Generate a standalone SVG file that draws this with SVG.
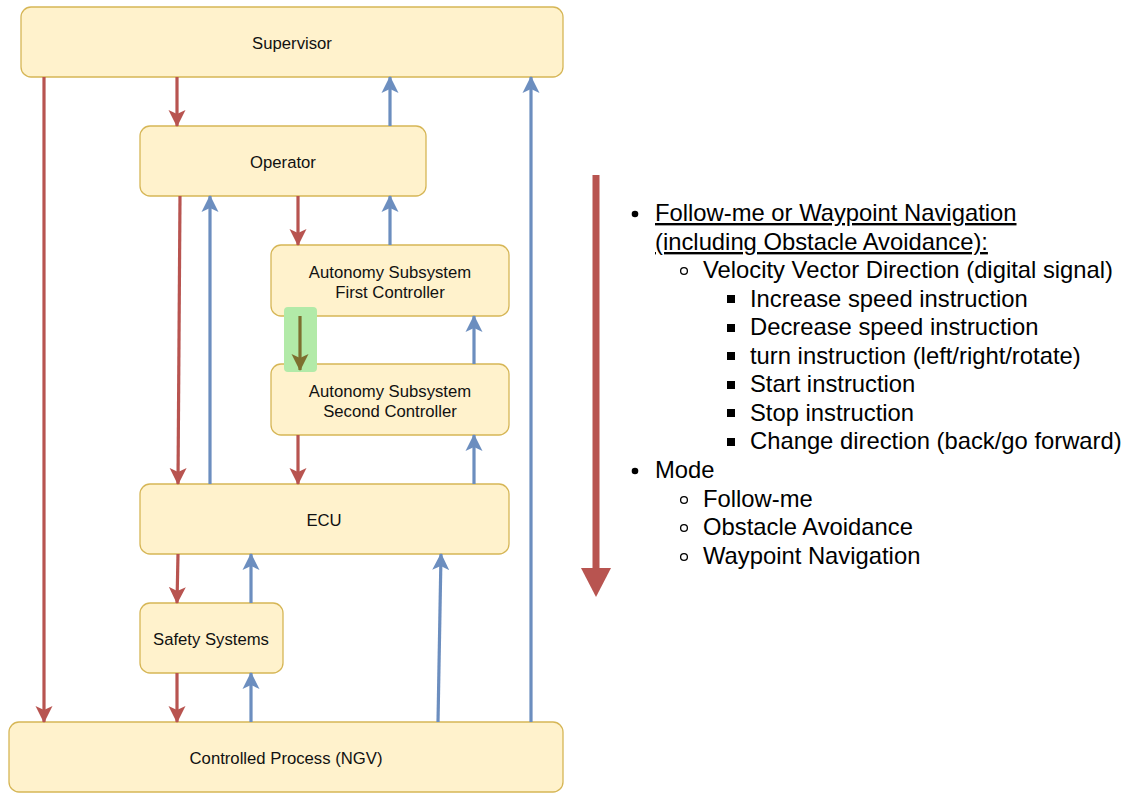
<svg xmlns="http://www.w3.org/2000/svg" width="1129" height="794" viewBox="0 0 1129 794">
  <style>
    .node rect { fill: #fff2cc; stroke: #d6b656; stroke-width: 1.3; }
    .node text { font-family: "Liberation Sans", Arial, sans-serif; font-size: 16.7px; fill: #111; text-anchor: middle; }
    .down { stroke: #b85450; stroke-width: 3.2; fill: none; marker-end: url(#headRed); }
    .up { stroke: #6c8ebf; stroke-width: 3.2; fill: none; marker-end: url(#headBlue); }
    .list { font-family: "Liberation Sans", Arial, sans-serif; font-size: 23.8px; fill: #000; }
    .u { text-decoration: underline; }
    .disc { fill: #000; }
    .circ { fill: none; stroke: #000; stroke-width: 1.3; }
  </style>
  <defs>
    <marker id="headRed" markerUnits="userSpaceOnUse" markerWidth="18" markerHeight="18" viewBox="0 0 18 18" refX="16" refY="9" orient="auto">
      <path d="M0,0.5 L17,9 L0,17.5 L4,9 z" fill="#b85450"/>
    </marker>
    <marker id="headBlue" markerUnits="userSpaceOnUse" markerWidth="18" markerHeight="18" viewBox="0 0 18 18" refX="16" refY="9" orient="auto">
      <path d="M0,0.5 L17,9 L0,17.5 L4,9 z" fill="#6c8ebf"/>
    </marker>
    <marker id="headOlive" markerUnits="userSpaceOnUse" markerWidth="18" markerHeight="18" viewBox="0 0 18 18" refX="16" refY="9" orient="auto">
      <path d="M0,0.5 L17,9 L0,17.5 L4,9 z" fill="#7d6f30"/>
    </marker>
  </defs>
  <rect width="1129" height="794" fill="#ffffff"/>

  <g id="supervisor" class="node">
    <rect x="21" y="7" width="542" height="70" rx="10"/>
    <text x="292" y="49">Supervisor</text>
  </g>
  <g id="operator" class="node">
    <rect x="140" y="126" width="286" height="70" rx="10"/>
    <text x="283" y="168">Operator</text>
  </g>
  <g id="autonomy-first" class="node">
    <rect x="271" y="245" width="238" height="71" rx="10"/>
    <text x="390" y="278">Autonomy Subsystem</text>
    <text x="390" y="298">First Controller</text>
  </g>
  <g id="autonomy-second" class="node">
    <rect x="271" y="364" width="238" height="71" rx="10"/>
    <text x="390" y="397">Autonomy Subsystem</text>
    <text x="390" y="417">Second Controller</text>
  </g>
  <g id="ecu" class="node">
    <rect x="140" y="484" width="369" height="70" rx="10"/>
    <text x="324" y="526">ECU</text>
  </g>
  <g id="safety-systems" class="node">
    <rect x="140" y="603" width="143" height="70" rx="10"/>
    <text x="211" y="645">Safety Systems</text>
  </g>
  <g id="controlled-process" class="node">
    <rect x="9" y="722" width="554" height="70" rx="10"/>
    <text x="286" y="764">Controlled Process (NGV)</text>
  </g>

  <!-- highlight over the controller-to-controller link -->
  <rect id="link-highlight" x="284" y="307" width="33" height="65" rx="4" fill="#b2eaa8"/>

  <g id="connectors">
    <!-- control actions (downward) -->
    <line class="down" x1="177" y1="77" x2="177" y2="126"/>
    <line class="down" x1="44" y1="77" x2="44" y2="722"/>
    <line class="down" x1="180" y1="196" x2="178" y2="484"/>
    <line class="down" x1="298" y1="196" x2="298" y2="245"/>
    <line x1="300" y1="316" x2="300" y2="370" stroke="#7d6f30" stroke-width="3.2" marker-end="url(#headOlive)"/>
    <line class="down" x1="298" y1="435" x2="298" y2="484"/>
    <line class="down" x1="178" y1="554" x2="177" y2="603"/>
    <line class="down" x1="177" y1="673" x2="177" y2="722"/>
    <!-- feedback (upward) -->
    <line class="up" x1="390" y1="126" x2="390" y2="77"/>
    <line class="up" x1="531" y1="722" x2="531" y2="77"/>
    <line class="up" x1="210" y1="484" x2="210" y2="196"/>
    <line class="up" x1="390" y1="245" x2="390" y2="196"/>
    <line class="up" x1="474" y1="364" x2="474" y2="316"/>
    <line class="up" x1="474" y1="484" x2="474" y2="435"/>
    <line class="up" x1="251" y1="603" x2="251" y2="554"/>
    <line class="up" x1="251" y1="722" x2="251" y2="673"/>
    <line class="up" x1="438" y1="722" x2="441" y2="554"/>
  </g>

  <!-- command flow arrow beside the list -->
  <g id="flow-arrow">
    <line x1="596" y1="175" x2="596" y2="570" stroke="#b85450" stroke-width="7"/>
    <path d="M581,568 L611,568 L596,597 z" fill="#b85450"/>
  </g>

  <g id="signal-list" class="list">
    <circle class="disc" cx="635" cy="214" r="3.3"/>
    <text x="655" y="221" class="u">Follow-me or Waypoint Navigation</text>
    <text x="655" y="250" class="u">(including Obstacle Avoidance):</text>
    <circle class="circ" cx="684" cy="271" r="3.4"/>
    <text x="703" y="278">Velocity Vector Direction (digital signal)</text>
    <rect x="727" y="295" width="8" height="8" fill="#000"/>
    <text x="750" y="307">Increase speed instruction</text>
    <rect x="727" y="324" width="8" height="8" fill="#000"/>
    <text x="750" y="335">Decrease speed instruction</text>
    <rect x="727" y="352" width="8" height="8" fill="#000"/>
    <text x="750" y="364">turn instruction (left/right/rotate)</text>
    <rect x="727" y="381" width="8" height="8" fill="#000"/>
    <text x="750" y="392">Start instruction</text>
    <rect x="727" y="409" width="8" height="8" fill="#000"/>
    <text x="750" y="421">Stop instruction</text>
    <rect x="727" y="438" width="8" height="8" fill="#000"/>
    <text x="750" y="449">Change direction (back/go forward)</text>
    <circle class="disc" cx="635" cy="471" r="3.3"/>
    <text x="655" y="478">Mode</text>
    <circle class="circ" cx="684" cy="500" r="3.4"/>
    <text x="703" y="507">Follow-me</text>
    <circle class="circ" cx="684" cy="528" r="3.4"/>
    <text x="703" y="535">Obstacle Avoidance</text>
    <circle class="circ" cx="684" cy="557" r="3.4"/>
    <text x="703" y="564">Waypoint Navigation</text>
  </g>
</svg>
